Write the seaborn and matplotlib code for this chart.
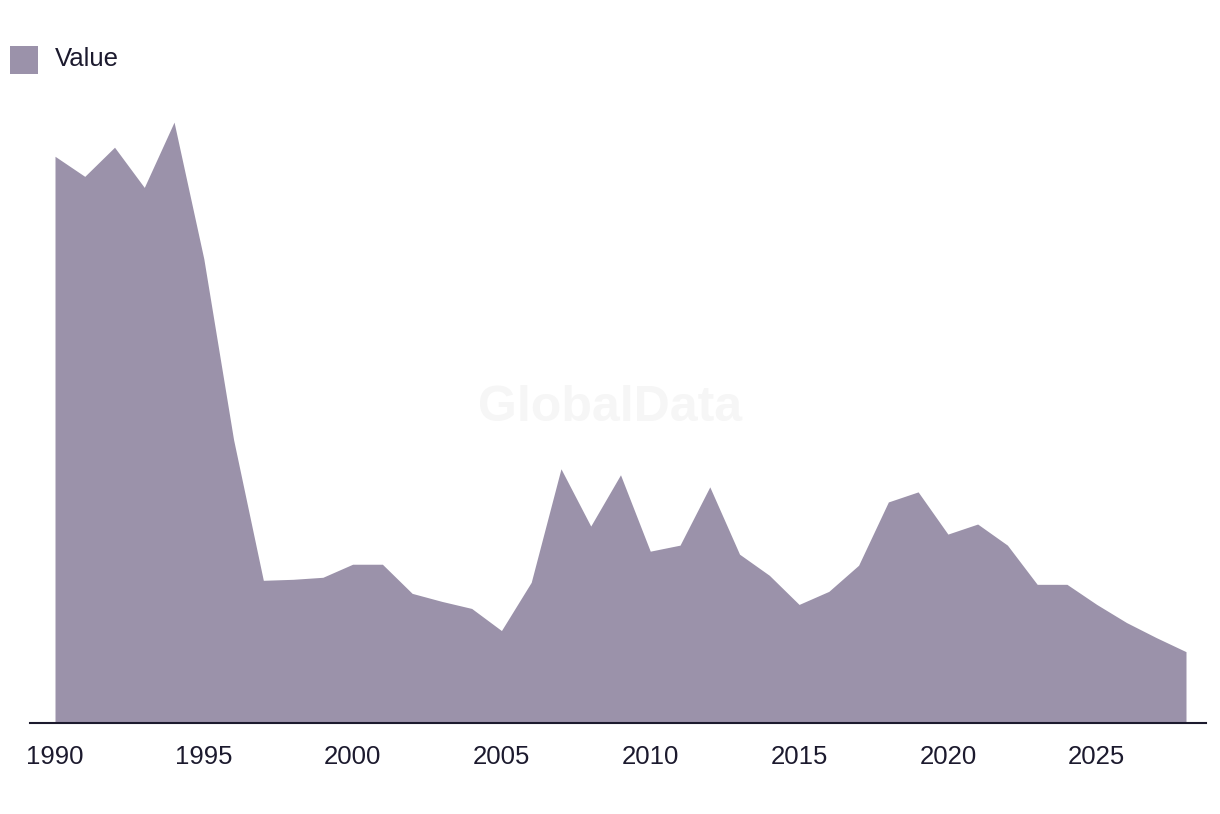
import matplotlib
matplotlib.use("Agg")
import matplotlib.pyplot as plt
import seaborn as sns
import pandas as pd
from matplotlib.patches import Rectangle

years = list(range(1990, 2029))
values = [564, 544, 573, 533, 598, 462, 282, 142, 143, 145, 158, 158, 129, 121, 114, 92,
          140, 253, 196, 247, 171, 177, 235, 168, 147, 118, 131, 157, 220, 230, 188, 198,
          177, 138, 138, 118, 100, 85, 71]
tick_years = [1990, 1995, 2000, 2005, 2010, 2015, 2020, 2025]
series_name = "Value"

sns.set_theme(style="white")
plt.rcParams['font.family'] = ['Liberation Sans', 'DejaVu Sans']

fill_color = "#9b92aa"
text_color = "#1c1a2e"

df = pd.DataFrame({"year": years, "value": values})

fig = plt.figure(figsize=(12.2, 8.14), dpi=100)
ax = fig.add_axes([30 / 1220, 1 - 723 / 814, 1176 / 1220, 623 / 814])

sns.lineplot(data=df, x="year", y="value", ax=ax, linewidth=0, color=fill_color)
ax.fill_between(df["year"], df["value"], 0, color=fill_color, linewidth=0, zorder=2)

ax.set_xlim(1990 - 25 / 29.76, 2028 + 20 / 29.76)
ax.set_ylim(0, 620)
ax.set_xticks(tick_years)
ax.set_xticklabels([str(y) for y in tick_years], fontsize=18.5, color=text_color)
ax.set_yticks([])
ax.set_xlabel("")
ax.set_ylabel("")
for s in ["top", "right", "left"]:
    ax.spines[s].set_visible(False)
ax.spines["bottom"].set_color(text_color)
ax.spines["bottom"].set_linewidth(1.5)
ax.spines["bottom"].set_zorder(3)
ax.tick_params(axis="x", length=0, pad=16)

# watermark
fig.text(610 / 1220, 1 - 408 / 814, "GlobalData", ha="center", va="center",
         fontsize=36, fontweight="bold", color="#f6f6f6", zorder=0)

# legend
fig.patches.append(Rectangle((10 / 1220, 1 - 74 / 814), 28 / 1220, 28 / 814,
                             transform=fig.transFigure, facecolor=fill_color,
                             edgecolor="none"))
fig.text(55 / 1220, 1 - 59 / 814, series_name, ha="left", va="center",
         fontsize=18.5, color=text_color)

fig.savefig("out.png", dpi=100)
